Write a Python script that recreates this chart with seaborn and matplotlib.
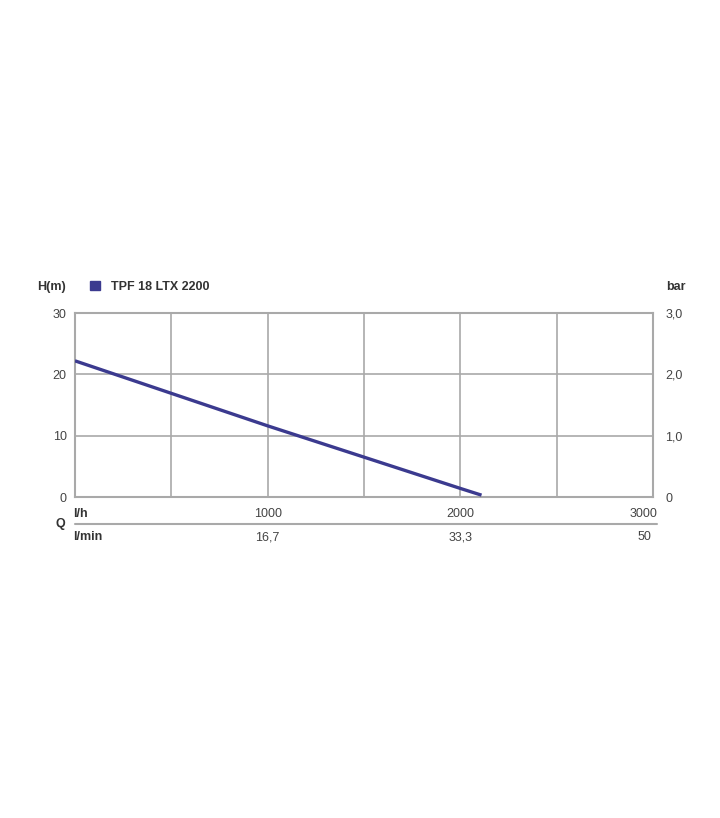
import pandas as pd
import numpy as np
import seaborn as sns
import matplotlib.pyplot as plt
import matplotlib.transforms as mtransforms

# pump curve
flow_lh = [0, 500, 1000, 1500, 2000, 2110]
head_m = [22.2, 16.9, 11.6, 6.5, 1.4, 0.3]
series_name = 'TPF 18 LTX 2200'

h_ticks = [0, 10, 20, 30]
bar_labels = ['0', '1,0', '2,0', '3,0']
lh_ticks = [1000, 2000, 3000]
lmin_labels = ['16,7', '33,3', '50']

sns.set_style('white')
plt.rcParams['font.family'] = ['Liberation Sans', 'DejaVu Sans']

grid_c = '#a9a9a9'
text_c = '#444444'
head_c = '#333333'
line_c = '#3b3a8f'
fs = 9

df = pd.DataFrame({'Q': flow_lh, 'H': head_m})

fig = plt.figure(figsize=(7.2, 8.18), dpi=100)
ax = fig.add_axes([75 / 720, 1 - 497 / 818, 578 / 720, 184 / 818])

sns.lineplot(data=df, x='Q', y='H', ax=ax, color=line_c, lw=2.4,
             solid_capstyle='butt', zorder=3)

ax.set_xlim(0, 3000)
ax.set_ylim(0, 30)
ax.set_xticks(np.arange(0, 3001, 500))
ax.set_yticks(h_ticks)
ax.grid(True, color=grid_c, lw=1.2)
for s in ax.spines.values():
    s.set_color(grid_c)
    s.set_linewidth(1.5)
ax.tick_params(length=0, labelsize=fs, labelcolor=text_c)
ax.tick_params(axis='y', pad=6)
ax.set_xticklabels([])
ax.set_xlabel('')
ax.set_ylabel('')

# right bar axis
ax2 = ax.twinx()
ax2.set_ylim(0, 3)
ax2.set_yticks([0, 1, 2, 3])
ax2.set_yticklabels(bar_labels)
ax2.tick_params(length=0, labelsize=fs, labelcolor=text_c, pad=9)
for s in ax2.spines.values():
    s.set_visible(False)

# headers
y_head = 1 - 287 / 818
fig.text(66 / 720, y_head, 'H(m)', ha='right', va='center',
         fontsize=fs, fontweight='bold', color=head_c)
fig.text(666 / 720, y_head, 'bar', ha='left', va='center',
         fontsize=fs, fontweight='bold', color=head_c)
leg = ax.legend([plt.Rectangle((0, 0), 1, 1, color=line_c)], [series_name],
                loc='center left', bbox_to_anchor=(90 / 720, y_head),
                bbox_transform=fig.transFigure, frameon=False,
                handlelength=0.8, handleheight=0.8, handletextpad=0.9,
                borderpad=0, borderaxespad=0,
                prop={'weight': 'bold', 'size': fs})
leg.get_texts()[0].set_color(head_c)

# Q scales below
tr = mtransforms.blended_transform_factory(ax.transData, fig.transFigure)
y_lh = 1 - 514 / 818
y_lmin = 1 - 537 / 818
y_sep = 1 - 524 / 818
for q, lab in zip(lh_ticks, lmin_labels):
    ha = 'right' if q == 3000 else 'center'
    xq = q + 25 if q == 3000 else q
    ax.text(xq, y_lh, str(q), transform=tr, ha=ha, va='center',
            fontsize=fs, color=text_c)
    xm = q - 42 if q == 3000 else q
    ax.text(xm, y_lmin, lab, transform=tr, ha='center', va='center',
            fontsize=fs, color=text_c)
ax.text(-10, y_lh, 'l/h', transform=tr, ha='left', va='center',
        fontsize=fs, fontweight='bold', color=head_c)
ax.text(-10, y_lmin, 'l/min', transform=tr, ha='left', va='center',
        fontsize=fs, fontweight='bold', color=head_c)
fig.text(60 / 720, y_sep, 'Q', ha='center', va='center',
         fontsize=fs, fontweight='bold', color=head_c)
ax.plot([0, 3020], [y_sep, y_sep], transform=tr, color=grid_c, lw=1.5,
        clip_on=False)

fig.savefig('out.png', dpi=100)
